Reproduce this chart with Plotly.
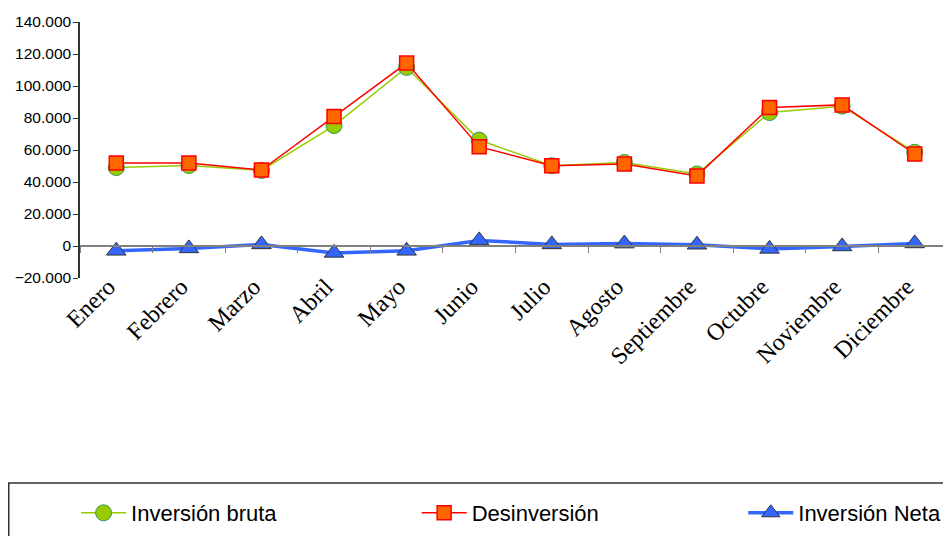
import plotly.graph_objects as go

# datos mensuales
meses = ['Enero', 'Febrero', 'Marzo', 'Abril', 'Mayo', 'Junio', 'Julio',
         'Agosto', 'Septiembre', 'Octubre', 'Noviembre', 'Diciembre']
inversion_bruta = [49000, 50300, 47200, 75300, 111600, 66200,
                   50200, 52200, 45000, 83400, 87400, 58600]
desinversion = [51900, 51900, 47500, 81000, 114300, 62100,
                50100, 51300, 43800, 86600, 88200, 57500]
inversion_neta = [-3000, -1500, 1000, -4300, -3000, 3500,
                  1000, 1500, 800, -1800, -300, 1600]

ytick_vals = [-20000, 0, 20000, 40000, 60000, 80000, 100000, 120000, 140000]

fig = go.Figure()
fig.add_trace(go.Scatter(
    x=meses, y=inversion_bruta, name='Inversión bruta', mode='lines+markers',
    line=dict(color='#99CC00', width=1.5),
    marker=dict(symbol='circle', size=16, color='#99CC00',
                line=dict(color='#339966', width=1)),
    legend='legend'))
fig.add_trace(go.Scatter(
    x=meses, y=desinversion, name='Desinversión', mode='lines+markers',
    line=dict(color='#FF0000', width=1.5),
    marker=dict(symbol='square', size=14, color='#FF6600',
                line=dict(color='#FF0000', width=1.5)),
    legend='legend2'))
fig.add_trace(go.Scatter(
    x=meses, y=inversion_neta, name='Inversión Neta', mode='lines+markers',
    xaxis='x2',
    line=dict(color='#3366FF', width=3.5),
    marker=dict(symbol='triangle-up', size=17, color='#3366FF',
                line=dict(color='#333333', width=1)),
    legend='legend3'))

legend_font = dict(family='Liberation Sans, Arial', size=22, color='#000000')
leg = dict(orientation='h', yanchor='middle', y=-0.918, xanchor='left',
           font=legend_font, bgcolor='rgba(0,0,0,0)', borderwidth=0,
           itemwidth=45)

# la página añade 8px de margen al body, se compensa aquí
fig.update_layout(
    width=943, height=528,
    margin=dict(l=72, r=0, t=14, b=258, autoexpand=False),
    plot_bgcolor='white', paper_bgcolor='white',
    separators=',.',
    showlegend=True,
    legend=dict(leg, x=-0.0045),
    legend2=dict(leg, x=0.3865),
    legend3=dict(leg, x=0.7615),
    xaxis=dict(
        showline=False, ticks='', showgrid=False, zeroline=False,
        tickangle=-45, automargin=False,
        ticklabelshift=-8, ticklabelstandoff=-11,
        tickfont=dict(family='Liberation Serif, Times New Roman', size=24, color='#000000'),
        range=[-0.5, 11.5]),
    xaxis2=dict(
        overlaying='x', matches='x', anchor='free', position=0.125, side='bottom',
        showline=True, linecolor='#808080', linewidth=1.5,
        ticks='outside', ticklen=6, tickcolor='#808080', tickwidth=1,
        tickson='boundaries', showticklabels=False, showgrid=False,
        zeroline=False, automargin=False),
    yaxis=dict(
        range=[-20000, 140000], tickvals=ytick_vals, tickformat=',.0f',
        showline=True, linecolor='#333333', linewidth=1.5,
        ticks='outside', ticklen=5, tickcolor='#333333',
        showgrid=False, zeroline=False, ticklabelstandoff=-1, automargin=False,
        tickfont=dict(family='Liberation Sans, Arial', size=15.5, color='#000000')),
    shapes=[dict(type='rect', xref='paper', yref='paper',
                 x0=-0.0818, x1=1.1, y0=-0.8008, y1=-1.1,
                 line=dict(color='#333333', width=1.5), fillcolor='rgba(0,0,0,0)')],
)

fig.write_html("out.html")
